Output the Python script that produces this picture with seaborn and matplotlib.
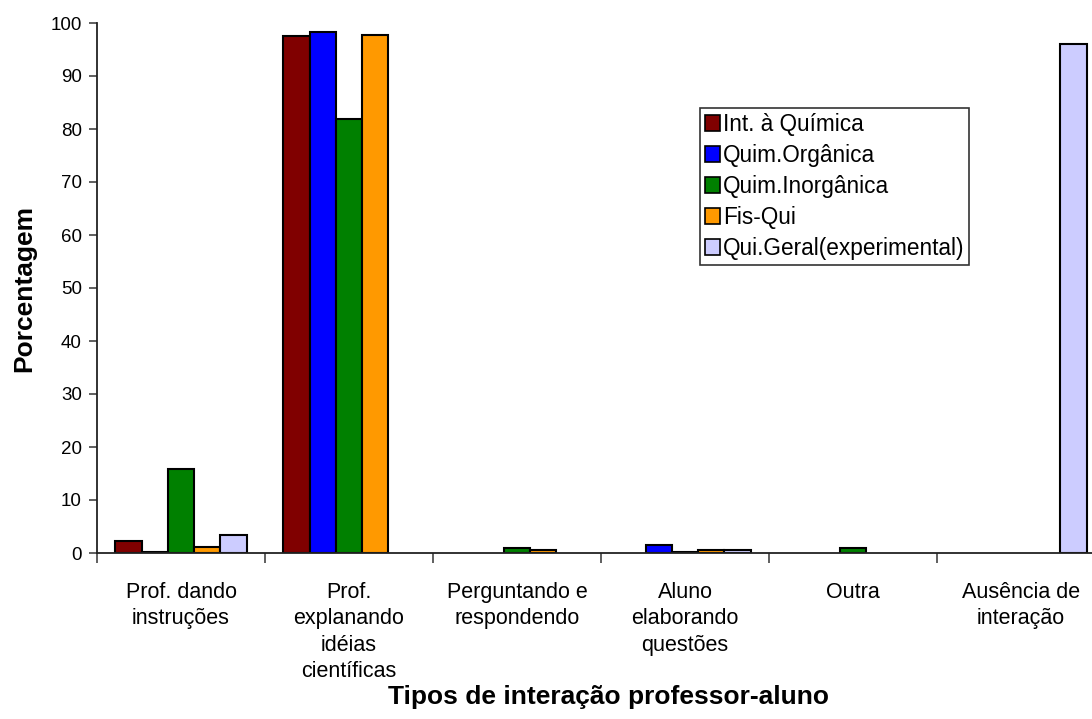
import matplotlib
matplotlib.use("Agg")
import matplotlib.pyplot as plt
import seaborn as sns
import pandas as pd
import numpy as np

categorias = [
    "Prof. dando\ninstruções",
    "Prof.\nexplanando\nidéias\ncientíficas",
    "Perguntando e\nrespondendo",
    "Aluno\nelaborando\nquestões",
    "Outra",
    "Ausência de\ninteração",
]
series = [
    "Int. à Química",
    "Quim.Orgânica",
    "Quim.Inorgânica",
    "Fis-Qui",
    "Qui.Geral(experimental)",
]
int_quimica = [2.3, 97.6, 0.0, 0.0, 0.0, 0.0]
quim_organica = [0.2, 98.3, 0.0, 1.5, 0.0, 0.0]
quim_inorganica = [15.9, 81.9, 1.0, 0.2, 1.0, 0.0]
fis_qui = [1.1, 97.8, 0.5, 0.5, 0.0, 0.0]
qui_geral = [3.4, 0.0, 0.0, 0.55, 0.0, 96.0]
cores = ["#800000", "#0000FF", "#008000", "#FF9900", "#CCCCFF"]

valores = [int_quimica, quim_organica, quim_inorganica, fis_qui, qui_geral]
linhas = []
for serie, vals in zip(series, valores):
    for cat, v in zip(categorias, vals):
        linhas.append({"categoria": cat, "serie": serie, "valor": v})
df = pd.DataFrame(linhas)
df_barras = df[df["valor"] > 0]

sns.set_style("white")
plt.rcParams["font.family"] = ["Liberation Sans", "DejaVu Sans"]
plt.rcParams["text.color"] = "black"
plt.rcParams["axes.labelcolor"] = "black"
plt.rcParams["xtick.labelcolor"] = "black"
plt.rcParams["ytick.labelcolor"] = "black"

fig = plt.figure(figsize=(10.92, 7.19), dpi=100)
ax = fig.add_axes([97 / 1092, 166 / 719, 1008 / 1092, 530 / 719])

sns.barplot(
    data=df_barras, x="categoria", y="valor", hue="serie",
    order=categorias, hue_order=series, palette=cores,
    errorbar=None, width=0.78, edgecolor="black", linewidth=1.5,
    saturation=1, ax=ax,
)

ax.set_xlim(-0.5, len(categorias) - 0.5)
ax.set_ylim(0, 100)
ax.set_yticks(np.arange(0, 101, 10))
ax.tick_params(axis="y", which="major", direction="out", length=6, width=1.2,
               color="#444444", labelcolor="black", labelsize=13.5, pad=5,
               left=True)

# category boundaries carry the tick marks, labels sit at the centres
ax.set_xticks(np.arange(-0.5, len(categorias), 1.0))
ax.set_xticklabels([])
ax.set_xticks(np.arange(len(categorias)), minor=True)
ax.set_xticklabels(categorias, minor=True, fontsize=15.5, linespacing=1.33,
                   color="black")
ax.tick_params(axis="x", which="major", direction="out", length=7, width=1.2,
               color="#444444", bottom=True)
ax.tick_params(axis="x", which="minor", length=0, pad=21)

for lado in ["top", "right"]:
    ax.spines[lado].set_visible(False)
for lado in ["left", "bottom"]:
    ax.spines[lado].set_color("#222222")
    ax.spines[lado].set_linewidth(1.3)

ax.set_ylabel("Porcentagem", fontsize=19, fontweight="bold", labelpad=10,
              color="black")
ax.set_xlabel("")
fig.text(608 / 1092, 1 - 697 / 719, "Tipos de interação professor-aluno",
         fontsize=19, fontweight="bold", ha="center", va="center",
         color="black")

leg = ax.legend(
    loc="upper left", bbox_to_anchor=((700 - 97) / 1008, (553 - 108) / 530),
    fontsize=16.3, frameon=True, fancybox=False, shadow=False,
    handlelength=0.7, handleheight=0.7, handletextpad=0.12,
    labelspacing=0.36, borderpad=0.2, borderaxespad=0,
)
leg.get_frame().set_edgecolor("black")
leg.get_frame().set_linewidth(1.2)
for t in leg.get_texts():
    t.set_color("black")
for h in leg.legend_handles:
    h.set_edgecolor("black")
    h.set_linewidth(1.2)

fig.savefig("out.png", dpi=100)
